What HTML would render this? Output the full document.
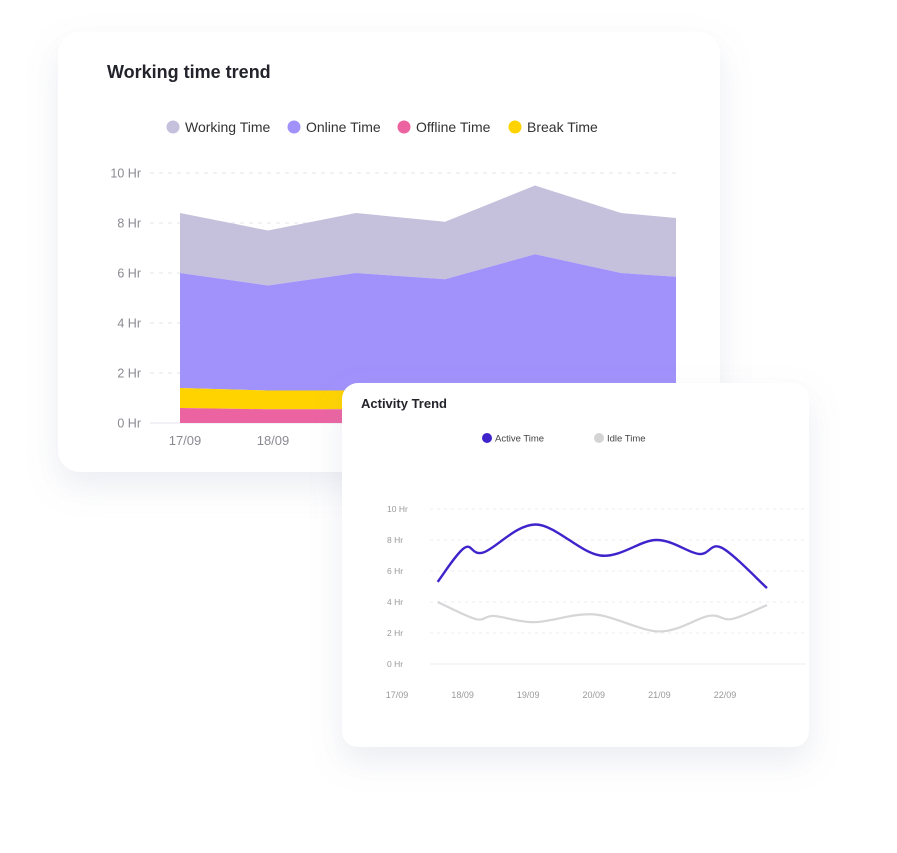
<!DOCTYPE html>
<html><head><meta charset="utf-8"><style>
html,body{margin:0;padding:0;background:#fff;width:897px;height:853px;overflow:hidden}
svg{display:block;font-family:"Liberation Sans",sans-serif}
</style></head><body>
<svg id="s" width="897" height="853" viewBox="0 0 897 853">
<defs>
<filter id="sh" x="-20%" y="-20%" width="140%" height="150%"><feDropShadow dx="0" dy="14" stdDeviation="16" flood-color="#8a8fb0" flood-opacity="0.16"/></filter>
</defs>
<rect x="58" y="32" width="662" height="440" rx="22" fill="#fff" filter="url(#sh)"/>
<text x="107" y="78" font-size="18" font-weight="bold" fill="#23232b">Working time trend</text>
<g id="legend1"></g>
<g id="grid1"></g>
<g id="areas"></g>
<g id="xl1"></g>
<rect x="342" y="383" width="467" height="364" rx="16" fill="#fff" filter="url(#sh)"/>
<text x="361" y="408" font-size="13" font-weight="bold" fill="#23232b">Activity Trend</text>
<g>
<circle cx="487" cy="438" r="5" fill="#3f24cc"/>
<text x="495" y="441.5" font-size="9.5" fill="#444">Active Time</text>
<circle cx="599" cy="438" r="5" fill="#d4d4d4"/>
<text x="607" y="441.5" font-size="9.5" fill="#444">Idle  Time</text>
</g>
<g id="grid2"></g>
<g id="lines"></g>
</svg>
<script>
// Working time trend data
const days1 = ["17/09","18/09","19/09","20/09","21/09","22/09","23/09"];
const workingTime = [8.4, 7.7, 8.4, 8.05, 9.5, 8.4, 8.2];
const onlineTime = [6.0, 5.5, 6.0, 5.75, 6.75, 6.0, 5.85];
const breakTime = [1.4, 1.3, 1.3, 1.4, 1.5, 1.5, 1.55];
const offlineTime = [0.6, 0.55, 0.55, 0.6, 0.6, 0.6, 0.6];
const yTicks = [0,2,4,6,8,10];
// Activity trend data (day index positions, values in hours)
const days2 = ["17/09","18/09","19/09","20/09","21/09","22/09"];
const activePos = [0.62, 1.03, 1.32, 2.12, 3.1, 3.95, 4.6, 4.95, 5.64];
const activeVal = [5.3, 7.5, 7.2, 9.0, 7.0, 8.0, 7.1, 7.5, 4.9];
const idlePos = [0.62, 1.2, 1.48, 2.1, 3.0, 4.0, 4.75, 5.1, 5.64];
const idleVal = [4.0, 2.9, 3.1, 2.7, 3.2, 2.1, 3.1, 2.9, 3.8];

const NS="http://www.w3.org/2000/svg";
function mk(tag, attrs, parent){const e=document.createElementNS(NS,tag);for(const k in attrs)e.setAttribute(k,attrs[k]);parent.appendChild(e);return e;}
const xPos1=[180,268,356,445,535,621,676];
function x1(i){return xPos1[i];}
function y1(v){return 423 - v*25;}
function x2(p){return 397 + p*65.6;}
function y2(v){return 664 - v*15.5;}

const lg=document.getElementById('legend1');
const legItems=[["Working Time","#c5c1dc",173],["Online Time","#a191fb",294],["Offline Time","#ec63a1",404],["Break  Time","#fed300",515]];
legItems.forEach(l=>{
  const c=mk('circle',{cx:l[2],cy:127,r:6.5,fill:l[1]},lg);
  
  
  const t=mk('text',{x:l[2]+12,y:132,'font-size':14,fill:'#333'},lg);
  
  
  t.textContent=l[0];
});
const g1=document.getElementById('grid1');
yTicks.forEach(v=>{
  const ln=mk('line',{x1:150,x2:678,y1:y1(v),y2:y1(v),stroke:'#e6e6ec','stroke-width':1,'stroke-dasharray':v===0?'':'4 5'},g1);
  
  
  const t=mk('text',{x:141,y:y1(v)+4.5,'font-size':12.5,fill:'#8a8a92','text-anchor':'end'},g1);
  
  
  t.textContent=v+' Hr';
});
const ar=document.getElementById('areas');
function band(top,bot,color,name){
  let d='M'+x1(0)+','+y1(top[0]);
  for(let i=1;i<top.length;i++)d+=' L'+x1(i)+','+y1(top[i]);
  for(let i=bot.length-1;i>=0;i--)d+=' L'+x1(i)+','+y1(bot[i]);
  const p=mk('path',{d:d+'Z',fill:color},ar);
  
  
}
const zeros=workingTime.map(()=>0);
band(workingTime,onlineTime,'#c5c1dc','working-time-area');
band(onlineTime,breakTime,'#a191fb','online-time-area');
band(breakTime,offlineTime,'#fed300','break-time-area');
band(offlineTime,zeros,'#ec63a1','offline-time-area');
const xl=document.getElementById('xl1');
days1.slice(0,6).forEach((d,i)=>{
  const t=mk('text',{x:x1(i)+5,y:445,'font-size':13,fill:'#8a8a92','text-anchor':'middle'},xl);
  
  
  t.textContent=d;
});
const g2=document.getElementById('grid2');
yTicks.forEach(v=>{
  const ln=mk('line',{x1:430,x2:806,y1:y2(v),y2:y2(v),stroke:'#ececf0','stroke-width':1,'stroke-dasharray':v===0?'':'3 4'},g2);
  
  
  const t=mk('text',{x:387,y:y2(v)+3,'font-size':8.5,fill:'#999'},g2);
  
  
  t.textContent=v+' Hr';
});
days2.forEach((d,i)=>{
  const t=mk('text',{x:x2(i),y:698,'font-size':9,fill:'#999','text-anchor':'middle'},g2);
  
  
  t.textContent=d;
});
function smooth(xs,ys){
  const P=xs.map((x,i)=>[x2(x),y2(ys[i])]);
  let d='M'+P[0][0]+','+P[0][1];
  for(let i=0;i<P.length-1;i++){
    const p0=P[i-1]||P[i],p1=P[i],p2=P[i+1],p3=P[i+2]||P[i+1];
    const c1=[p1[0]+(p2[0]-p0[0])/6,p1[1]+(p2[1]-p0[1])/6];
    const c2=[p2[0]-(p3[0]-p1[0])/6,p2[1]-(p3[1]-p1[1])/6];
    d+=' C'+c1[0]+','+c1[1]+' '+c2[0]+','+c2[1]+' '+p2[0]+','+p2[1];
  }
  return d;
}
const ln=document.getElementById('lines');
const idle=mk('path',{d:smooth(idlePos,idleVal),fill:'none',stroke:'#d6d6d8','stroke-width':2.2},ln);


const act=mk('path',{d:smooth(activePos,activeVal),fill:'none',stroke:'#3f24cc','stroke-width':2.4},ln);


</script>
</body></html>
